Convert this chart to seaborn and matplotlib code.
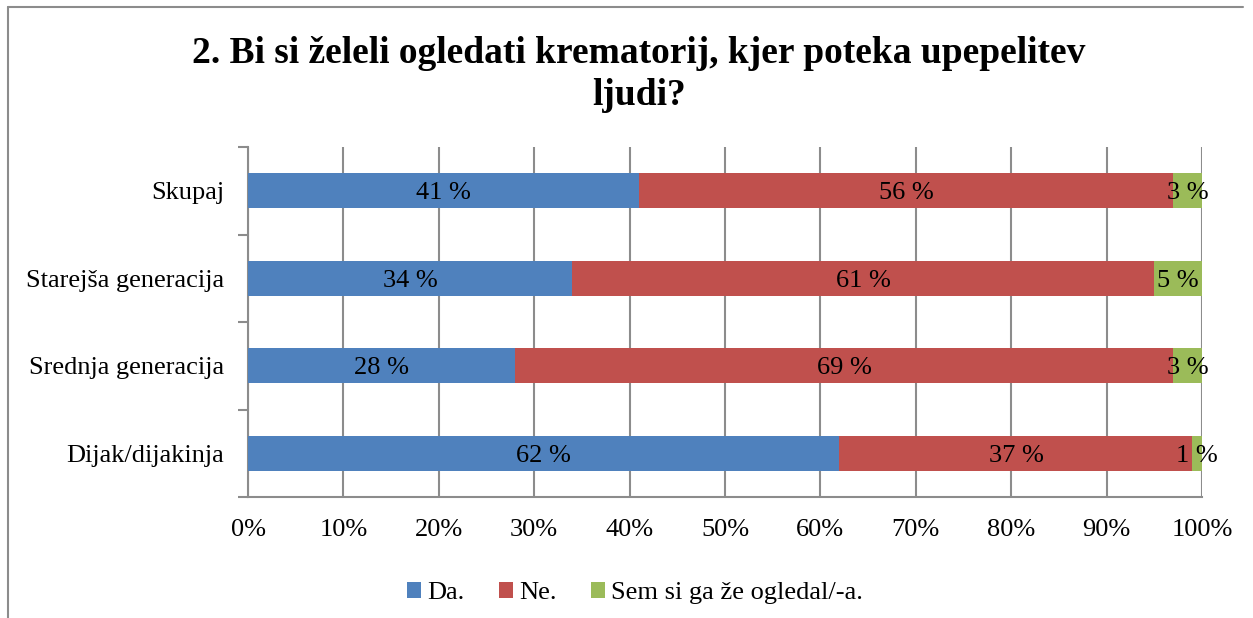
import matplotlib
matplotlib.use("Agg")
import matplotlib.pyplot as plt
import pandas as pd
import seaborn as sns
from matplotlib.lines import Line2D
from matplotlib.patches import Patch
from matplotlib.ticker import FixedLocator, PercentFormatter

# data
categories = ["Skupaj", "Starejša generacija", "Srednja generacija", "Dijak/dijakinja"]
da = [41, 34, 28, 62]
ne = [56, 61, 69, 37]
ze = [3, 5, 3, 1]
series_names = ["Da.", "Ne.", "Sem si ga že ogledal/-a."]
colors = ["#4F81BD", "#C0504D", "#9BBB59"]
title = "2. Bi si želeli ogledati krematorij, kjer poteka upepelitev\nljudi?"

sns.set_style("white")
plt.rcParams["font.family"] = ["Liberation Serif", "DejaVu Serif"]
plt.rcParams["text.color"] = "black"
plt.rcParams["xtick.labelcolor"] = "black"
plt.rcParams["ytick.labelcolor"] = "black"

FS = 19

df = pd.DataFrame({"cat": categories, "Da.": da, "Ne.": ne, "Sem si ga že ogledal/-a.": ze})
# cumulative stacks, drawn back to front
cum = df[series_names].cumsum(axis=1)

fig = plt.figure(figsize=(12.53, 6.18), dpi=100)
ax = fig.add_axes([248 / 1253, 1 - 497 / 618, 954 / 1253, 350 / 618])

for name, color in reversed(list(zip(series_names, colors))):
    sns.barplot(x=cum[name], y=df["cat"], color=color, width=0.4,
                saturation=1, ax=ax, zorder=3, edgecolor="none")

# segment labels
for name in series_names:
    centers = cum[name] - df[name] / 2
    for i, (c, v) in enumerate(zip(centers, df[name])):
        ax.text(c, i + 0.03, f"{v} %", ha="center", va="center", fontsize=FS, zorder=5)

ax.set_xlim(0, 100)
ax.set_ylim(3.5, -0.5)
ax.set_xticks(range(0, 101, 10))
ax.xaxis.set_major_formatter(PercentFormatter(decimals=0))
ax.set_xlabel("")
ax.set_ylabel("")
ax.grid(axis="x", color="#8c8c8c", linewidth=1.5, zorder=0)
ax.grid(axis="y", visible=False)

for s in ["top", "right"]:
    ax.spines[s].set_visible(False)
for s in ["left", "bottom"]:
    ax.spines[s].set_color("#8c8c8c")
    ax.spines[s].set_linewidth(1.5)

ax.tick_params(axis="x", length=7, width=1.5, color="#8c8c8c", labelsize=FS, pad=9)
ax.tick_params(axis="y", which="major", length=0, labelsize=FS, pad=17)
ax.yaxis.set_minor_locator(FixedLocator([-0.5, 0.5, 1.5, 2.5, 3.5]))
ax.tick_params(axis="y", which="minor", length=7, width=1.5, color="#8c8c8c", left=True)

fig.text(0.510, 0.880, title, ha="center", va="center", fontsize=27,
         fontweight="bold", linespacing=1.25)

handles = [Patch(facecolor=c, edgecolor="none") for c in colors]
fig.legend(handles, series_names, loc="center", bbox_to_anchor=(0.507, 0.040),
           ncol=3, frameon=False, fontsize=FS, handlelength=0.52, handleheight=0.52,
           handletextpad=0.25, columnspacing=1.3)

# outer chart frame (left and top edges visible in the reference)
fig.add_artist(Line2D([8 / 1253, 8 / 1253], [0, 1 - 7 / 618], color="#8c8c8c",
                      linewidth=1.5, transform=fig.transFigure))
fig.add_artist(Line2D([8 / 1253, 1243 / 1253], [1 - 7 / 618, 1 - 7 / 618],
                      color="#8c8c8c", linewidth=1.5, transform=fig.transFigure))

fig.savefig("out.png", dpi=100)
